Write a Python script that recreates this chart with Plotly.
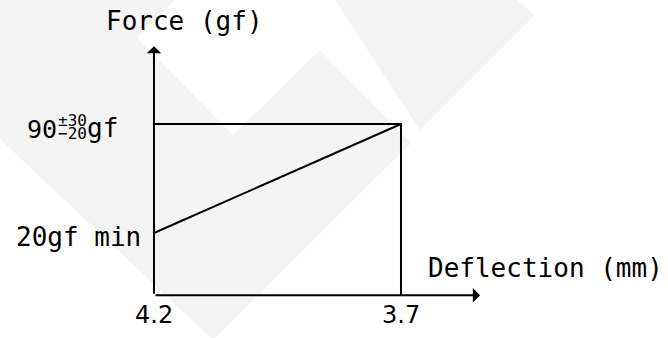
import plotly.graph_objects as go

# deflection (mm) at rest and at operating point, and force (gf)
deflection = [4.2, 3.7]
force = [20, 90]
force_nominal = 90
tol_plus = "±30"
tol_minus = "−20"
min_label = "20gf min"
x_ticks = [4.2, 3.7]
x_tick_text = ["4.2", "3.7"]

# schematic axis origin and arrow ends
y_origin = -20
y_arrow_end = 140
x_arrow_end = 3.54

MONO = "DejaVu Sans Mono"
SANS = "DejaVu Sans"
W, H = 668, 338

# faint watermark behind the drawing (pixel outlines, top-left origin)
watermark = [
    [(0, 0), (175, 0), (137, 38), (233, 135), (320, 50), (411, 143), (213, 340), (0, 139)],
    [(335, 0), (517, 0), (535, 15), (420, 130)],
]


def to_path(pts):
    s = "M " + " L ".join(f"{x / W:.4f},{1 - y / H:.4f}" for x, y in pts)
    return s + " Z"


fig = go.Figure()

# outline box from the nominal force down to the axis
fig.add_trace(go.Scatter(
    x=[deflection[0], deflection[1], deflection[1]],
    y=[force_nominal, force_nominal, y_origin],
    mode="lines",
    line=dict(color="black", width=2),
    hoverinfo="skip",
))

# force curve
fig.add_trace(go.Scatter(
    x=deflection,
    y=force,
    mode="lines",
    line=dict(color="black", width=2),
))

annotations = [
    # axes with arrows
    dict(x=deflection[0], y=y_arrow_end, ax=deflection[0], ay=y_origin,
         xref="x", yref="y", axref="x", ayref="y", text="",
         showarrow=True, arrowhead=1, arrowsize=1.2, arrowwidth=2, arrowcolor="black"),
    dict(x=x_arrow_end, y=y_origin, ax=deflection[0], ay=y_origin,
         xref="x", yref="y", axref="x", ayref="y", text="",
         showarrow=True, arrowhead=1, arrowsize=1.2, arrowwidth=2, arrowcolor="black"),
    # axis titles
    dict(x=deflection[0], y=y_arrow_end, xref="x", yref="y", text="Force (gf)",
         showarrow=False, xanchor="center", yanchor="middle", xshift=31, yshift=25,
         font=dict(family=MONO, size=26, color="black")),
    dict(x=x_arrow_end, y=y_origin, xref="x", yref="y", text="Deflection (mm)",
         showarrow=False, xanchor="left", yanchor="middle", xshift=-54, yshift=27,
         font=dict(family=MONO, size=26, color="black")),
    # force labels
    dict(x=deflection[0], y=force[0], xref="x", yref="y", text=min_label,
         showarrow=False, xanchor="right", yanchor="middle", xshift=-11, yshift=-4,
         font=dict(family=MONO, size=26, color="black")),
    dict(x=deflection[0], y=force_nominal, xref="x", yref="y", text=str(force_nominal),
         showarrow=False, xanchor="right", yanchor="middle", xshift=-95, yshift=-5,
         font=dict(family=MONO, size=25, color="black")),
    dict(x=deflection[0], y=force_nominal, xref="x", yref="y", text=tol_plus,
         showarrow=False, xanchor="left", yanchor="middle", xshift=-98, yshift=4,
         font=dict(family=MONO, size=16, color="black")),
    dict(x=deflection[0], y=force_nominal, xref="x", yref="y", text=tol_minus,
         showarrow=False, xanchor="left", yanchor="middle", xshift=-98, yshift=-9,
         font=dict(family=MONO, size=16, color="black")),
    dict(x=deflection[0], y=force_nominal, xref="x", yref="y", text="gf",
         showarrow=False, xanchor="left", yanchor="middle", xshift=-69, yshift=-4,
         font=dict(family=MONO, size=26, color="black")),
]

# x tick labels
for xv, txt in zip(x_ticks, x_tick_text):
    annotations.append(dict(
        x=xv, y=y_origin, xref="x", yref="y", text=txt, showarrow=False,
        xanchor="center", yanchor="middle", yshift=-20,
        font=dict(family=SANS, size=24, color="black"),
    ))

shapes = [
    dict(type="path", xref="paper", yref="paper", path=to_path(p),
         fillcolor="#f4f4f4", line=dict(width=0), layer="below")
    for p in watermark
]

fig.update_layout(
    width=W,
    height=H,
    margin=dict(l=0, r=0, t=0, b=0),
    paper_bgcolor="white",
    plot_bgcolor="white",
    showlegend=False,
    annotations=annotations,
    shapes=shapes,
    xaxis=dict(range=[4.5117, 3.1595], visible=False, fixedrange=True),
    yaxis=dict(range=[-47.43, 169.63], visible=False, fixedrange=True),
)

# drop the browser's default page margin so the figure sits at the top-left corner
fig.write_html("out.html", config={"displayModeBar": False},
               post_script="document.body.style.margin='0px';")
